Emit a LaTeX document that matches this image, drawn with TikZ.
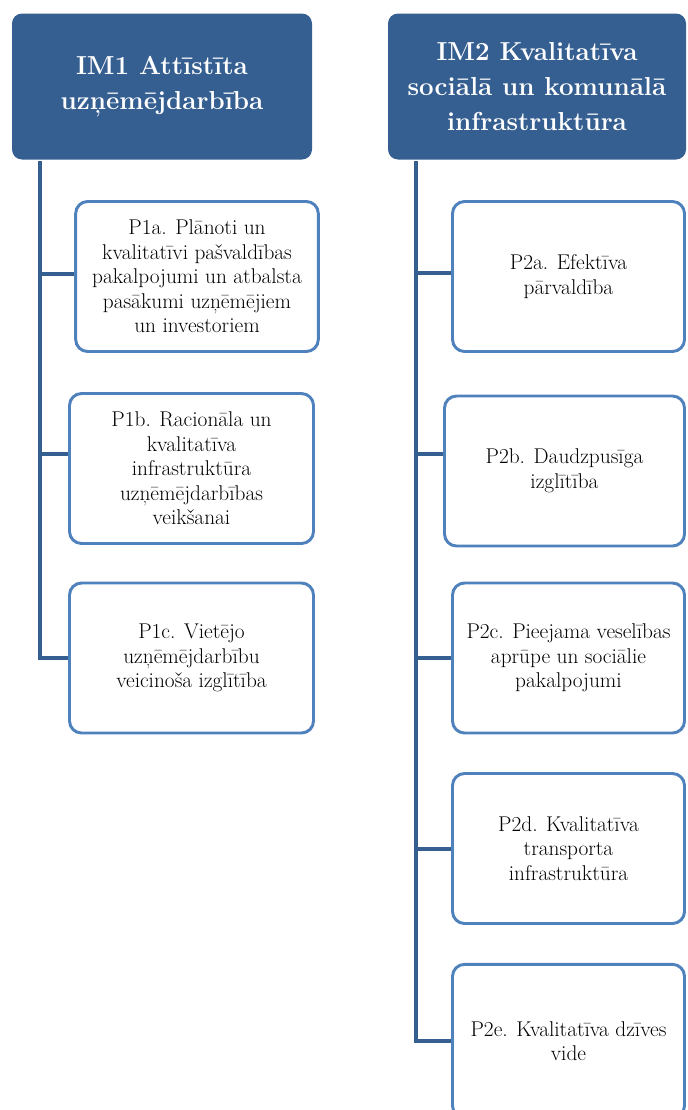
\documentclass[tikz,border=0pt]{standalone}
\usepackage{tikz}
\usetikzlibrary{arrows,positioning}
\definecolor{headblue}{RGB}{54,95,145}
\definecolor{boxblue}{RGB}{79,129,189}
\tikzstyle{head}=[rectangle, rounded corners=7.5pt, fill=headblue, text=white, align=center, font=\fontsize{19.5}{26}\selectfont\bfseries]
\tikzstyle{box1}=[rectangle, rounded corners=9pt, draw=boxblue, line width=2.2pt, fill=white, align=center, minimum height=112.5pt, font=\fontsize{16}{18.4}\selectfont]
\tikzstyle{line}=[draw=headblue, line width=3pt]

\begin{document}
\begin{tikzpicture}[x=0.75pt, y=-0.75pt]

\useasboundingbox (0,0) rectangle (688,1110);
\clip (0,0) rectangle (688,1110);

% headers
\node (A) [head, minimum width=225pt, minimum height=109.5pt] at (162,86.5) {IM1 Attīstīta\\ uzņēmējdarbība};
\node (B) [head, minimum width=223.5pt, minimum height=109.5pt] at (537,86.5) {IM2 Kvalitatīva\\ sociālā un komunālā\\ infrastruktūra};

% left column
\node (A1) [box1, minimum width=182pt] at (197,276.5) {P1a. Plānoti un\\ kvalitatīvi pašvaldības\\ pakalpojumi un atbalsta\\ pasākumi uzņēmējiem\\ un investoriem};
\node (A2) [box1, minimum width=183pt] at (191.5,468.5) {P1b. Racionāla un\\ kvalitatīva\\ infrastruktūra\\ uzņēmējdarbības\\ veikšanai};
\node (A3) [box1, minimum width=183pt] at (191.5,658) {P1c. Vietējo\\ uzņēmējdarbību\\ veicinoša izglītība};

% right column
\node (B1) [box1, minimum width=174pt] at (568.5,276.5) {P2a. Efektīva\\ pārvaldība};
\node (B2) [box1, minimum width=180pt] at (564.5,471) {P2b. Daudzpusīga\\ izglītība};
\node (B3) [box1, minimum width=174pt] at (568.5,658) {P2c. Pieejama veselības\\ aprūpe un sociālie\\ pakalpojumi};
\node (B4) [box1, minimum width=174pt] at (568.5,848.5) {P2d. Kvalitatīva\\ transporta\\ infrastruktūra};
\node (B5) [box1, minimum width=174pt, minimum height=115pt] at (568.5,1041) {P2e. Kvalitatīva dzīves\\ vide};

\coordinate (a) at (40,161);
\coordinate (b) at (416,161);

\draw [line] (a) |- ([yshift=2pt]A1.west);
\draw [line] (a) |- ([yshift=11pt]A2.west);
\draw [line] (a) |- (A3.west);
\draw [line] (b) |- ([yshift=3pt]B1.west);
\draw [line] (b) |- ([yshift=13pt]B2.west);
\draw [line] (b) |- (B3.west);
\draw [line] (b) |- (B4.west);
\draw [line] (b) |- (B5.west);

\end{tikzpicture}
\end{document}
